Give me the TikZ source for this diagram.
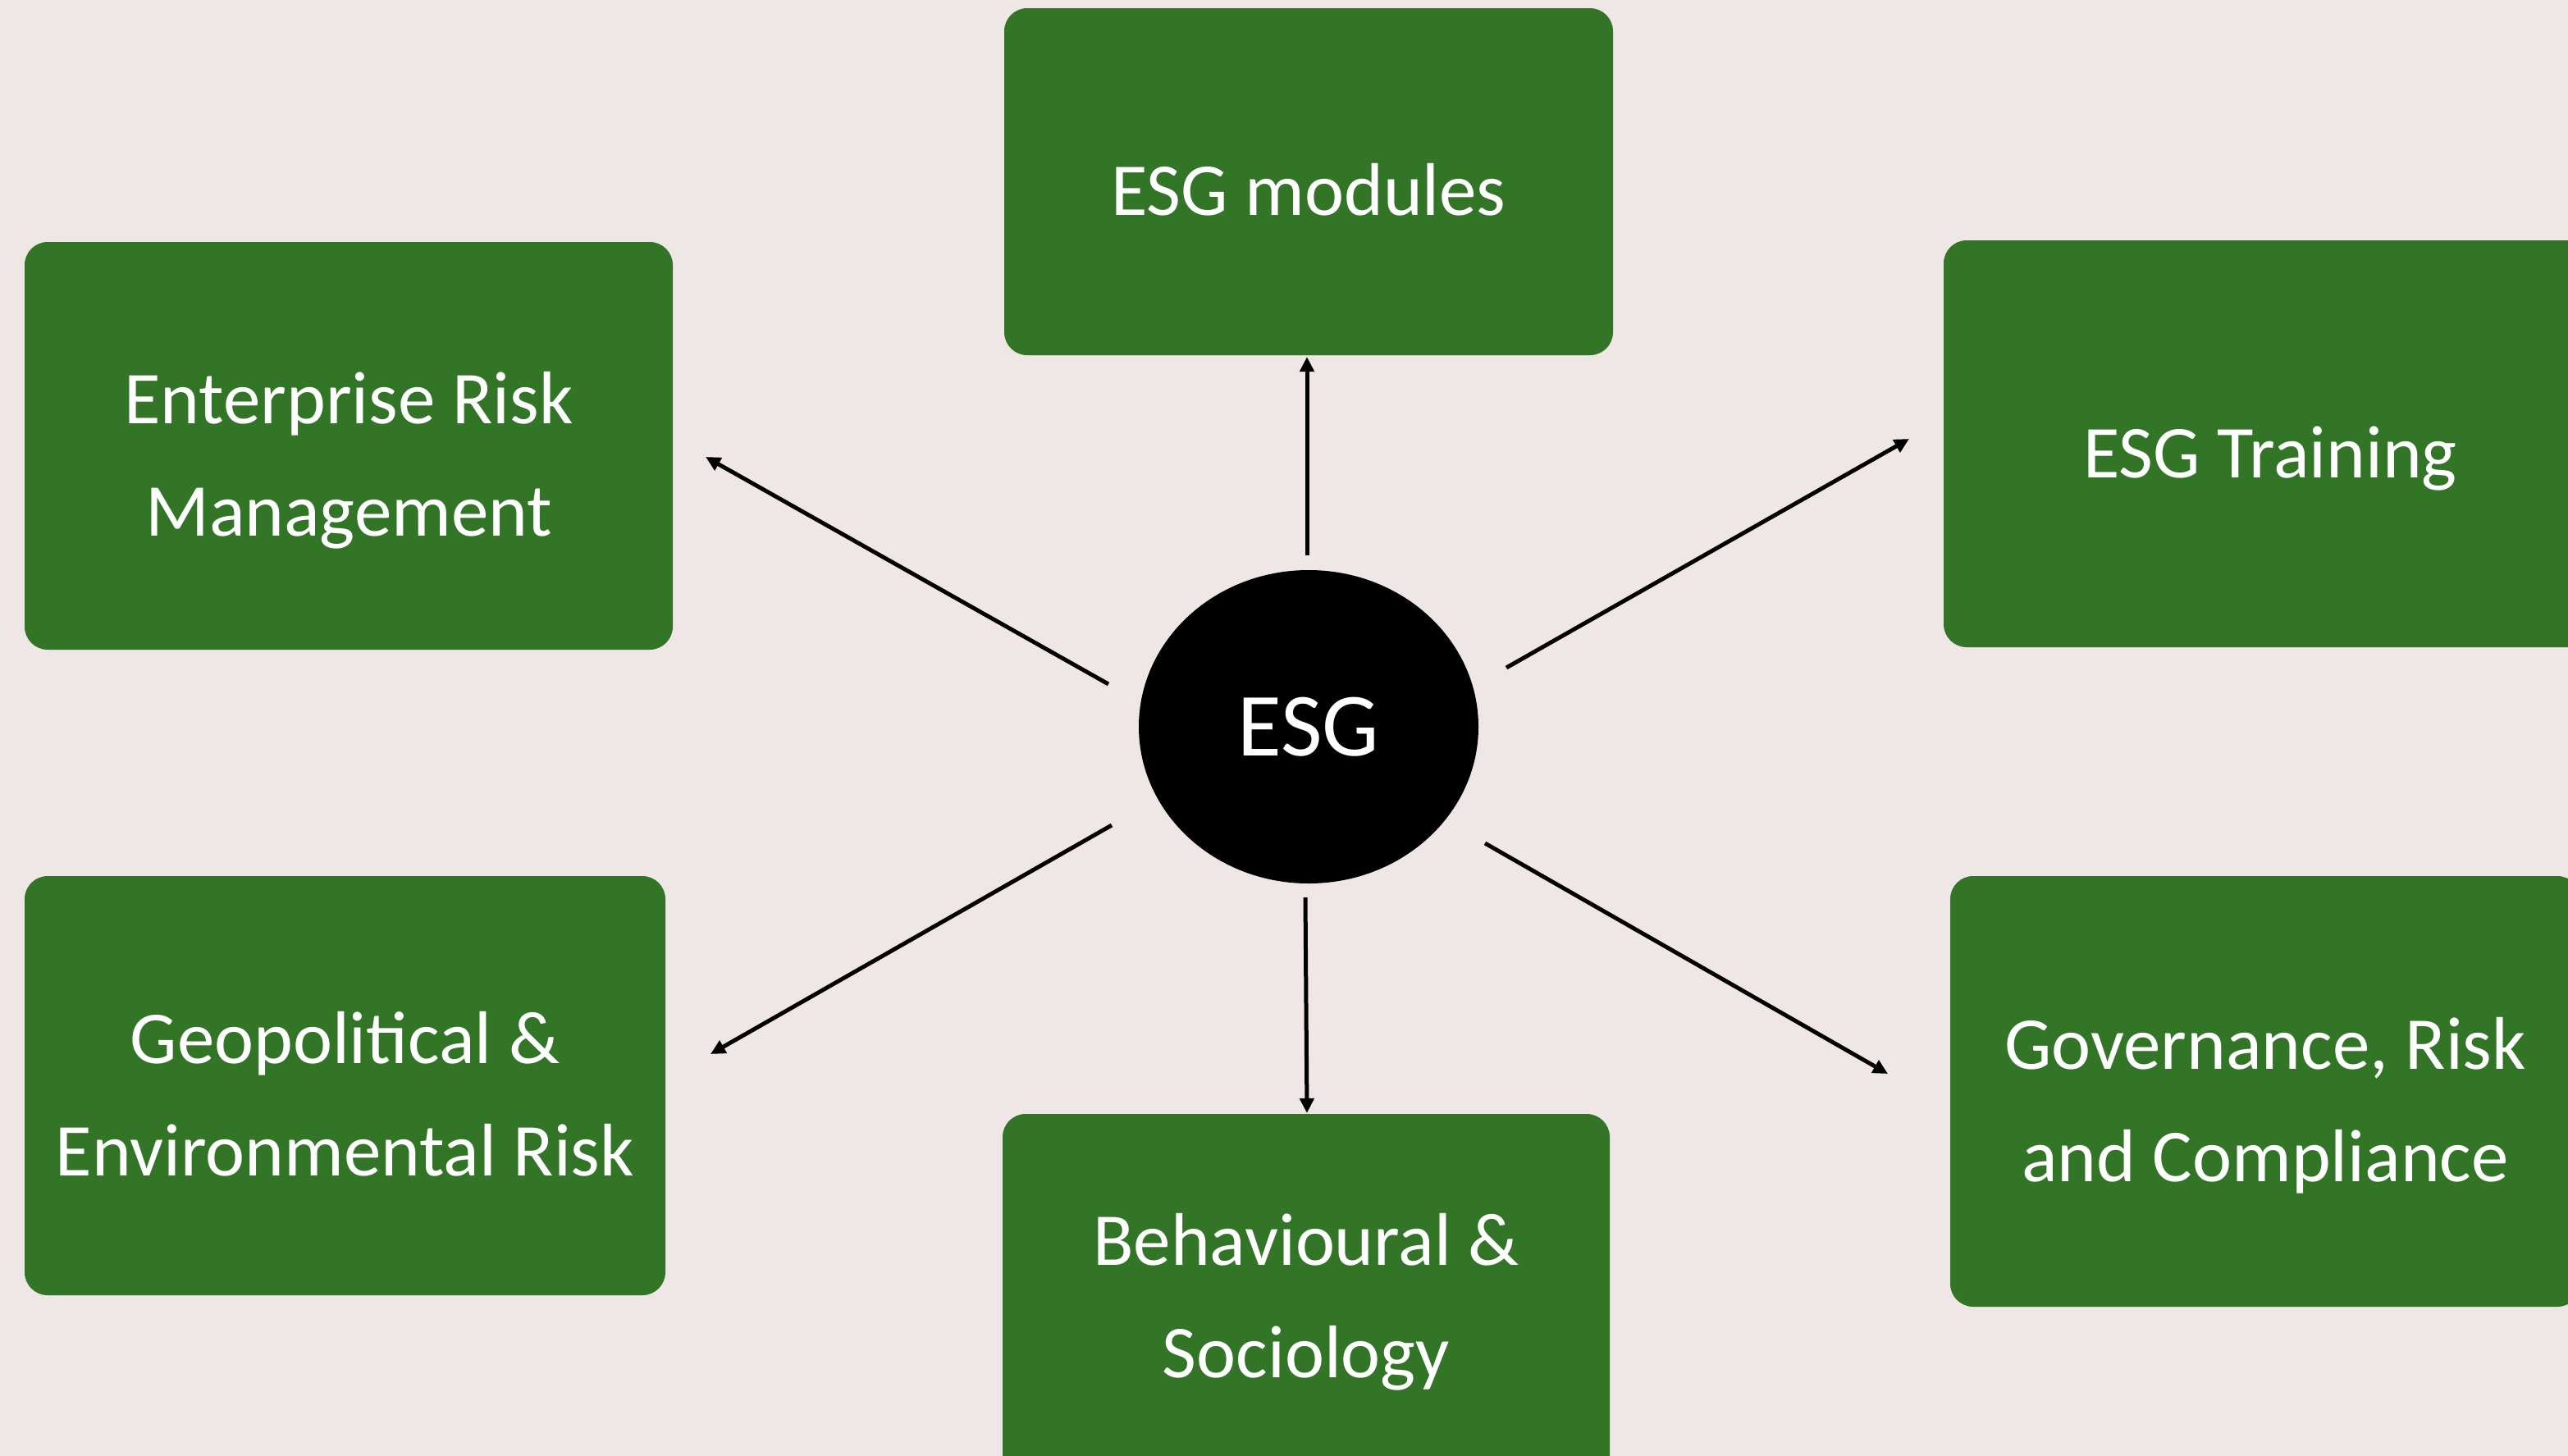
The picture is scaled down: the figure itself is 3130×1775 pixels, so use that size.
\documentclass[tikz,border=0pt]{standalone}
\usepackage{fontspec}
\setmainfont{Carlito}
\usetikzlibrary{arrows.meta,shapes.geometric}
\definecolor{bgc}{RGB}{239,231,229}
\definecolor{boxgreen}{RGB}{50,117,38}
\tikzset{
  greenbox/.style={fill=boxgreen, draw=none, rounded corners=28pt, inner sep=0pt},
  boxtext/.style={text=white, align=center, inner sep=0pt, font=\fontsize{91}{137}\selectfont},
  hub/.style={ellipse, fill=black, draw=none, inner sep=0pt, text=white,
    minimum width=414pt, minimum height=382pt, font=\fontsize{110}{132}\selectfont},
  link/.style={line width=5pt, -{Triangle[length=18pt,width=17pt]}}
}
\begin{document}
\begin{tikzpicture}[x=1pt,y=-1pt]
\useasboundingbox (0,0) rectangle (3130,1775);
\clip (0,0) rectangle (3130,1775);
\fill[bgc] (0,0) rectangle (3130,1775);

\node[greenbox, minimum width=790pt, minimum height=497pt] (erm) at (425,543.5) {};
\node[greenbox, minimum width=742pt, minimum height=423pt] (mod) at (1595,221.5) {};
\node[greenbox, minimum width=796pt, minimum height=496pt] (trn) at (2767,541) {};
\node[greenbox, minimum width=781pt, minimum height=511pt] (geo) at (420.5,1323.5) {};
\node[greenbox, minimum width=740pt, minimum height=446pt] (beh) at (1592,1581) {};
\node[greenbox, minimum width=768pt, minimum height=525pt] (grc) at (2761,1330.5) {};

\node[boxtext] (ermt) at ([yshift=-18pt]erm.center) {Enterprise Risk\\Management};
\node[boxtext] (modt) at ([yshift=-10pt]mod.center) {ESG modules};
\node[boxtext] (trnt) at ([yshift=-18pt]trn.center) {ESG Training};
\node[boxtext] (geot) at ([yshift=-10pt]geo.center) {Geopolitical \&\\Environmental Risk};
\node[boxtext] (beht) at ([yshift=-6pt]beh.center) {Behavioural \&\\Sociology};
\node[boxtext] (grct) at ([yshift=-17pt]grc.center) {Governance, Risk\\and Compliance};

\node[hub] (esg) at (1595,886) {ESG};

\coordinate (s1) at (1593,677);  \coordinate (e1) at (1593,435);
\coordinate (s2) at (1351,834);  \coordinate (e2) at (860,557);
\coordinate (s3) at (1836,814);  \coordinate (e3) at (2327,535);
\coordinate (s4) at (1355,1006); \coordinate (e4) at (866,1285);
\coordinate (s5) at (1591,1094); \coordinate (e5) at (1593,1357);
\coordinate (s6) at (1810,1028); \coordinate (e6) at (2301,1309);

\draw[link] (s1) -- (e1);
\draw[link] (s2) -- (e2);
\draw[link] (s3) -- (e3);
\draw[link] (s4) -- (e4);
\draw[link] (s5) -- (e5);
\draw[link] (s6) -- (e6);
\end{tikzpicture}
\end{document}
